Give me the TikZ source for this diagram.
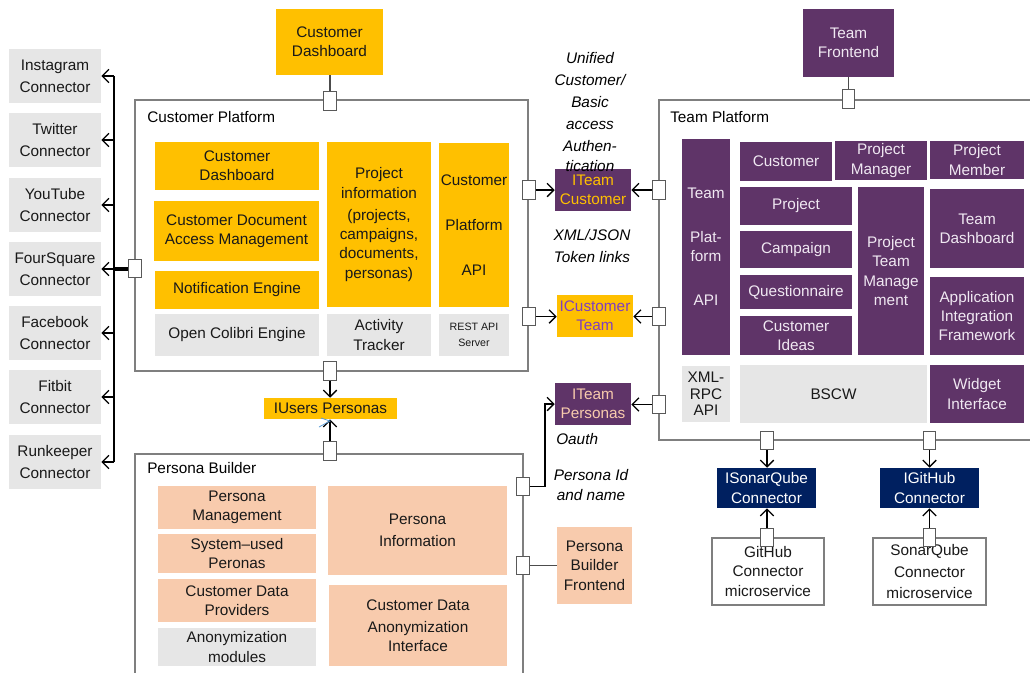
\documentclass[tikz,border=0pt]{standalone}
\usepackage{fontspec}
\setmainfont{Liberation Sans}
\usetikzlibrary{arrows.meta}
\usetikzlibrary{calc}

\definecolor{cporange}{HTML}{FFC000}
\definecolor{tppurple}{HTML}{5F3468}
\definecolor{pbpeach}{HTML}{F8CBAD}
\definecolor{modgray}{HTML}{E6E6E6}
\definecolor{icnavy}{HTML}{002060}
\definecolor{framegray}{HTML}{7F7F7F}
\definecolor{lilac}{HTML}{7F3FBF}
\definecolor{tptext}{HTML}{F0E8F2}
\definecolor{marker}{HTML}{5B9BD5}

\tikzset{
	box/.style={inner sep=0pt, align=center, text=black!90, font=\fontsize{11.5}{14.5}\selectfont},
	cpbox/.style={box, fill=cporange},
	tpbox/.style={box, fill=tppurple, text=tptext},
	pbbox/.style={box, fill=pbpeach},
	graybox/.style={box, fill=modgray},
	navybox/.style={box, fill=icnavy, text=white},
	msbox/.style={box, draw=framegray, line width=0.9pt, fill=white},
	frame/.style={draw=framegray, line width=1pt},
	port/.style={draw=black!65, fill=white, line width=0.8pt, minimum width=9.5pt, minimum height=14pt, inner sep=0pt},
	arr/.style={-{Straight Barb[length=5pt,width=10pt]}, line width=1pt},
	link/.style={draw=black!70, line width=0.8pt},
	title/.style={anchor=west, inner sep=0pt, font=\fontsize{11.5}{14.5}\selectfont},
	note/.style={inner sep=0pt, align=center, font=\fontsize{11.5}{14.5}\selectfont\itshape}
}

\newcommand{\blk}[7] % name, x1, y1, x2, y2 in px, style, text
{
	\node[#6, minimum width={(#4-#2)*0.75pt}, minimum height={(#5-#3)*0.75pt}] (#1) at ({(#2+#4)/2},{(#3+#5)/2}) {#7};
}

\begin{document}
\begin{tikzpicture}[x=0.75pt, y=-0.75pt]
	% page: 1030 x 672 px
	\clip (0,0) rectangle (1030,672);

	% containers
	\draw[frame] (135,100) rectangle (528,371);
	\draw[frame] (135,454) rectangle (523,700);
	\draw[frame] (659,100) rectangle (1045,440);
	\node[title] (cptitle) at (147,117) {Customer Platform};
	\node[title] (pbtitle) at (147,468) {Persona Builder};
	\node[title] (tptitle) at (670,117) {Team Platform};

	% social connectors
	\blk{instagram}{9}{49}{101}{103}{graybox}{Instagram\\[2pt]Connector}
	\blk{twitter}{9}{113}{101}{167}{graybox}{Twitter\\[2pt]Connector}
	\blk{youtube}{9}{178}{101}{232}{graybox}{YouTube\\[2pt]Connector}
	\blk{foursquare}{9}{242}{101}{296}{graybox}{FourSquare\\[2pt]Connector}
	\blk{facebook}{9}{306}{101}{360}{graybox}{Facebook\\[2pt]Connector}
	\blk{fitbit}{9}{370}{101}{424}{graybox}{Fitbit\\[2pt]Connector}
	\blk{runkeeper}{9}{435}{101}{489}{graybox}{Runkeeper\\[2pt]Connector}

	% customer platform
	\blk{custfront}{276}{9}{383}{75}{cpbox}{Customer\\Dashboard}
	\blk{custdash}{155}{142}{319}{190}{cpbox}{Customer\\Dashboard}
	\blk{docaccess}{154}{201}{319}{261}{cpbox}{Customer Document\\Access Management}
	\blk{notify}{155}{271}{319}{309}{cpbox}{Notification Engine}
	\blk{colibri}{155}{314}{319}{356}{graybox}{Open Colibri Engine}
	\blk{projinfo}{327}{142}{431}{307}{cpbox}{Project\\information\\[2pt](projects,\\campaigns,\\documents,\\personas)}
	\blk{tracker}{327}{314}{431}{356}{graybox}{Activity\\Tracker}
	\blk{cpapi}{439}{143}{509}{307}{cpbox}{Customer\\[19pt]Platform\\[19pt]API}
	\blk{rest}{439}{314}{509}{356}{graybox, font=\fontsize{8}{12}\selectfont}{REST API\\Server}

	% interfaces
	\blk{iteamcust}{555}{169}{631}{211}{tpbox, text=cporange}{ITeam\\Customer}
	\blk{icustteam}{557}{295}{633}{337}{cpbox, text=lilac}{ICustomer\\Team}
	\blk{iteampers}{555}{383}{631}{425}{tpbox, text=pbpeach}{ITeam\\Personas}
	\blk{iusers}{264}{398}{397}{419}{cpbox}{IUsers Personas}
	\node[note] (authnote) at (590,112) {Unified\\[2pt]Customer/\\[2pt]Basic\\[2pt]access\\[2pt]Authen-\\tication};
	\node[note] (tokennote) at (592,246) {XML/JSON\\[2pt]Token links};
	\node[note, anchor=west] (oauthnote) at (556,439) {Oauth};
	\node[note] (idnote) at (591,485) {Persona Id\\and name};

	% persona builder
	\blk{pmanage}{158}{486}{316}{529}{pbbox}{Persona\\Management}
	\blk{sysused}{158}{534}{316}{573}{pbbox}{System--used\\Peronas}
	\blk{providers}{158}{579}{316}{622}{pbbox}{Customer Data\\Providers}
	\blk{anonmod}{158}{628}{316}{666}{graybox}{Anonymization\\modules}
	\blk{pinfo}{328}{486}{507}{575}{pbbox}{Persona\\[2pt]Information}
	\blk{anonif}{329}{585}{507}{666}{pbbox}{Customer Data\\[2pt]Anonymization\\Interface}
	\blk{pbfront}{557}{527}{632}{604}{pbbox}{Persona\\Builder\\Frontend}

	% team platform
	\blk{teamfront}{803}{9}{894}{77}{tpbox}{Team\\Frontend}
	\blk{tpapi}{682}{139}{730}{355}{tpbox}{Team\\[18.5pt]Plat-\\form\\[18.5pt]API}
	\blk{tcust}{740}{142}{832}{181}{tpbox}{Customer}
	\blk{tpm}{835}{141}{927}{180}{tpbox}{Project\\Manager}
	\blk{tmember}{930}{141}{1024}{179}{tpbox}{Project\\Member}
	\blk{tproject}{740}{187}{852}{225}{tpbox}{Project}
	\blk{tcampaign}{740}{231}{852}{268}{tpbox}{Campaign}
	\blk{tquest}{740}{275}{852}{309}{tpbox}{Questionnaire}
	\blk{tideas}{740}{316}{852}{355}{tpbox}{Customer\\Ideas}
	\blk{tptm}{858}{187}{924}{355}{tpbox}{Project\\Team\\Manage\\ment}
	\blk{tdash}{930}{189}{1024}{268}{tpbox}{Team\\Dashboard}
	\blk{taif}{930}{277}{1024}{355}{tpbox}{Application\\Integration\\Framework}
	\blk{xmlrpc}{682}{366}{730}{422}{graybox, font=\fontsize{11.5}{12.5}\selectfont}{XML-\\RPC\\API}
	\blk{bscw}{740}{365}{927}{423}{graybox}{BSCW}
	\blk{widget}{930}{365}{1024}{423}{tpbox}{Widget\\Interface}

	% connectors to code hosts
	\blk{isonar}{717}{468}{816}{508}{navybox}{ISonarQube\\Connector}
	\blk{igithub}{880}{468}{979}{508}{navybox}{IGitHub\\Connector}
	\blk{ghms}{712}{538}{824}{605}{msbox}{GitHub\\Connector\\microservice}
	\blk{sqms}{873}{538}{986}{605}{msbox}{SonarQube\\[2pt]Connector\\[1pt]microservice}

	% ports
	\node[port] (cptop) at (330,101) {};
	\node[port] (cpleft) at (135,268.5) {};
	\node[port] (cpright1) at (529,190) {};
	\node[port] (cpright2) at (529,316.5) {};
	\node[port] (cpbot) at (330,371) {};
	\node[port] (pbtop) at (330,451) {};
	\node[port] (pbright1) at (523,486.5) {};
	\node[port] (pbright2) at (523,565.5) {};
	\node[port] (tptop) at (848.5,99) {};
	\node[port] (tpleft1) at (659,190) {};
	\node[port] (tpleft2) at (659,316.5) {};
	\node[port] (tpleft3) at (659,404.5) {};
	\node[port] (tpbot1) at (767,440.5) {};
	\node[port] (tpbot2) at (929.5,440.5) {};
	\node[port] (ghport) at (767,537.5) {};
	\node[port] (sqport) at (929.5,537.5) {};

	% connector bus
	\coordinate (bustop) at (114,76);
	\coordinate (busbot) at (114,462);
	\draw[line width=1pt] (bustop) -- (busbot);
	\draw[line width=3pt] (cpleft.west) -- (cpleft.west -| bustop);
	\foreach \c in {instagram,twitter,youtube,foursquare,facebook,fitbit,runkeeper}
		\draw[arr] (bustop |- \c.east) -- (\c.east);

	% links
	\draw[link] (custfront.south -| cptop) -- (cptop.north);
	\draw[link] (teamfront.south -| tptop) -- (tptop.north);
	\draw[link] (pbright2.east) -- (pbfront.west |- pbright2);
	\draw[arr] (cpright1.east) -- (iteamcust.west |- cpright1);
	\draw[arr] (cpright2.east) -- (icustteam.west |- cpright2);
	\draw[arr] (tpleft1.west) -- (iteamcust.east |- tpleft1);
	\draw[arr] (tpleft2.west) -- (icustteam.east |- tpleft2);
	\draw[arr] (tpleft3.west) -- (iteampers.east |- tpleft3);
	\draw[arr] (pbright1.east) -- (545,486.5) |- (iteampers.west);
	\draw[arr] (cpbot.south) -- (cpbot.south |- iusers.north);
	\draw[arr] (pbtop.north) -- (pbtop.north |- iusers.south);
	\draw[arr] (tpbot1.south) -- (tpbot1.south |- isonar.north);
	\draw[arr] (tpbot2.south) -- (tpbot2.south |- igithub.north);
	\draw[arr] (ghport.north) -- (ghport.north |- isonar.south);
	\draw[arr] (sqport.north) -- (sqport.north |- igithub.south);

	% stray marker under IUsers Personas
	\draw[marker, line width=0.6pt] (321,418) -- (330,421) -- (319,427);
\end{tikzpicture}
\end{document}
